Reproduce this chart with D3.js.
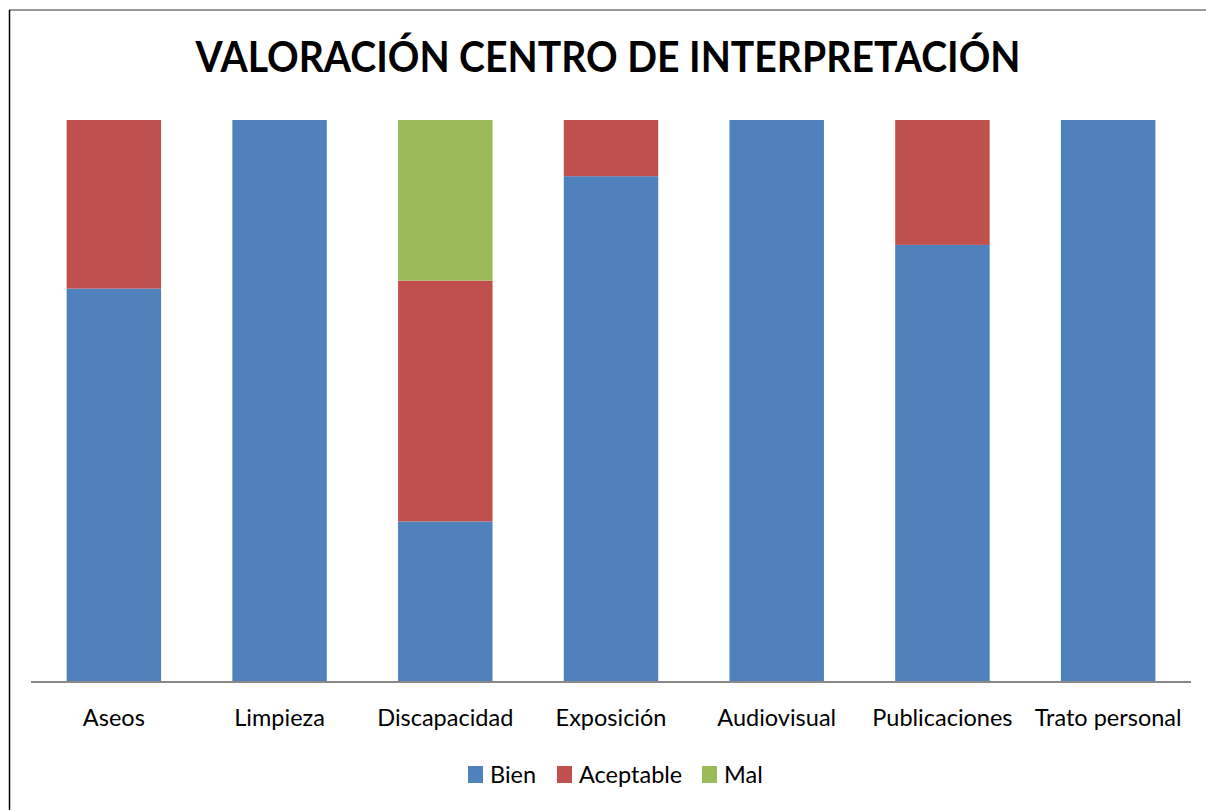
<!DOCTYPE html>
<html>
<head>
<meta charset="utf-8">
<script src="https://cdn.jsdelivr.net/npm/d3@7"></script>
<style>
    body { margin: 0; background: #fff; }
    text { font-family: Lato, "Open Sans", sans-serif; fill: #000; }
</style>
</head>
<body>
<svg id="chart" width="1206" height="810"></svg>
<script>
// categories and counts per rating
let categories = ["Aseos", "Limpieza", "Discapacidad", "Exposición", "Audiovisual", "Publicaciones", "Trato personal"];
let seriesNames = ["Bien", "Aceptable", "Mal"];
let bien      = [7, 10, 2, 9, 10, 7, 10];
let aceptable = [3, 0, 3, 1, 0, 2, 0];
let mal       = [0, 0, 2, 0, 0, 0, 0];
let colors = ["#4F81BD", "#C0504D", "#9BBB59"];

let svg = d3.select("#chart");

// frame
svg.append("line").attr("x1", 9).attr("x2", 1206).attr("y1", 10).attr("y2", 10)
    .attr("stroke", "#777").attr("stroke-width", 1.5);
svg.append("line").attr("x1", 9.5).attr("x2", 9.5).attr("y1", 10).attr("y2", 810)
    .attr("stroke", "#000").attr("stroke-width", 1.5);

// title
svg.append("text")
    .attr("x", 608).attr("y", 72)
    .attr("text-anchor", "middle")
    .attr("font-size", 42).attr("font-weight", "bold")
    .attr("textLength", 825).attr("lengthAdjust", "spacingAndGlyphs")
    .text("VALORACIÓN CENTRO DE INTERPRETACIÓN");

let rows = categories.map((c, i) => {
    let total = bien[i] + aceptable[i] + mal[i];
    return { cat: c, Bien: bien[i] / total, Aceptable: aceptable[i] / total, Mal: mal[i] / total };
});

let stack = d3.stack().keys(seriesNames)(rows);

let x = d3.scaleBand().domain(categories).range([31, 1191]).paddingInner(0.43).paddingOuter(0.215);
let y = d3.scaleLinear().domain([0, 1]).range([682, 120]);
let color = d3.scaleOrdinal().domain(seriesNames).range(colors);

svg.append("g")
    .selectAll("g")
    .data(stack)
    .enter()
    .append("g")
    .attr("fill", d => color(d.key))
    .selectAll("rect")
    .data(d => d)
    .enter()
    .append("rect")
    .attr("x", d => x(d.data.cat))
    .attr("width", x.bandwidth())
    .attr("y", d => y(d[1]))
    .attr("height", d => y(d[0]) - y(d[1]));

// x axis
let xAxis = svg.append("g")
    .attr("transform", "translate(0,682)")
    .call(d3.axisBottom(x).tickSize(0).tickPadding(27));
xAxis.select(".domain").attr("stroke", "#888").attr("stroke-width", 2).attr("d", "M31,0H1191");
xAxis.selectAll("text").attr("font-size", 23.5).style("font-family", "Lato, 'Open Sans', sans-serif").attr("fill", "#000");

// legend
let legendX = [468, 557, 702];
let legend = svg.append("g")
    .selectAll("g")
    .data(seriesNames)
    .enter()
    .append("g")
    .attr("transform", (d, i) => `translate(${legendX[i]},766)`);
legend.append("rect").attr("width", 15).attr("height", 17).attr("fill", d => color(d));
legend.append("text").attr("x", 22).attr("y", 17).attr("font-size", 23.5).text(d => d);
</script>
</body>
</html>
